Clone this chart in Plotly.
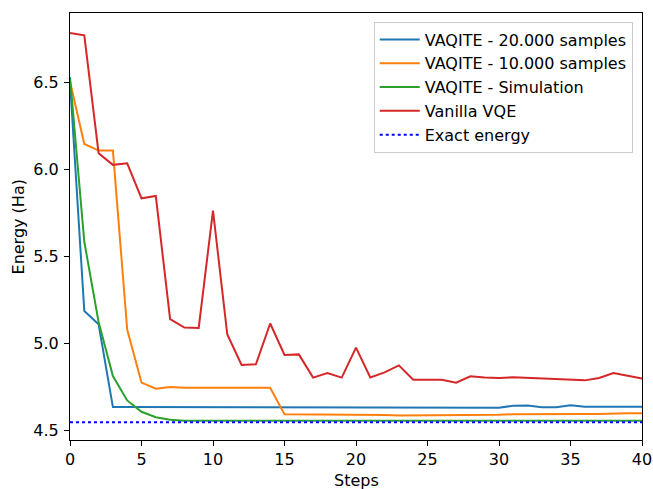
import plotly.graph_objects as go

steps = list(range(41))

vaqite_20000 = [6.503, 5.187, 5.111, 4.636, 4.636, 4.636, 4.636, 4.636, 4.636, 4.636,
                4.636, 4.636, 4.636, 4.635, 4.634, 4.634, 4.634, 4.634, 4.634, 4.634,
                4.634, 4.634, 4.634, 4.634, 4.634, 4.634, 4.634, 4.632, 4.632, 4.632,
                4.632, 4.644, 4.645, 4.635, 4.635, 4.646, 4.638, 4.638, 4.638, 4.638,
                4.638]
vaqite_10000 = [6.503, 6.145, 6.107, 6.107, 5.080, 4.776, 4.741, 4.751, 4.747, 4.747,
                4.747, 4.747, 4.747, 4.747, 4.747, 4.594, 4.594, 4.594, 4.594, 4.592,
                4.592, 4.591, 4.591, 4.588, 4.588, 4.589, 4.589, 4.588, 4.588, 4.592,
                4.592, 4.595, 4.596, 4.596, 4.596, 4.596, 4.596, 4.596, 4.599, 4.600,
                4.600]
vaqite_sim = [6.529, 5.584, 5.124, 4.814, 4.674, 4.609, 4.578, 4.563, 4.558, 4.557,
              4.557, 4.557, 4.557, 4.557, 4.557, 4.557, 4.557, 4.557, 4.557, 4.557,
              4.557, 4.557, 4.557, 4.557, 4.557, 4.557, 4.557, 4.557, 4.557, 4.557,
              4.557, 4.557, 4.557, 4.557, 4.557, 4.557, 4.557, 4.557, 4.557, 4.557,
              4.557]
vanilla_vqe = [6.782, 6.768, 6.092, 6.025, 6.034, 5.833, 5.847, 5.140, 5.092, 5.090,
               5.762, 5.052, 4.877, 4.881, 5.115, 4.935, 4.938, 4.805, 4.831, 4.805,
               4.977, 4.806, 4.835, 4.875, 4.793, 4.793, 4.793, 4.776, 4.812, 4.805,
               4.803, 4.807, 4.803, 4.797, 4.797, 4.789, 4.789, 4.803, 4.831, 4.815,
               4.799]
exact_energy = 4.549

x_ticks = [0, 5, 10, 15, 20, 25, 30, 35, 40]
y_ticks = [4.5, 5.0, 5.5, 6.0, 6.5]
x_title = "Steps"
y_title = "Energy (Ha)"

font = "DejaVu Sans"
fsize = 16

fig = go.Figure()
fig.add_trace(go.Scatter(x=steps, y=vaqite_20000, mode="lines",
                         name="VAQITE - 20.000 samples",
                         line=dict(color="#1f77b4", width=2)))
fig.add_trace(go.Scatter(x=steps, y=vaqite_10000, mode="lines",
                         name="VAQITE - 10.000 samples",
                         line=dict(color="#ff7f0e", width=2)))
fig.add_trace(go.Scatter(x=steps, y=vaqite_sim, mode="lines",
                         name="VAQITE - Simulation",
                         line=dict(color="#2ca02c", width=2)))
fig.add_trace(go.Scatter(x=steps, y=vanilla_vqe, mode="lines",
                         name="Vanilla VQE",
                         line=dict(color="#d62728", width=2)))
fig.add_trace(go.Scatter(x=[steps[0], steps[-1]], y=[exact_energy, exact_energy],
                         mode="lines", name="Exact energy",
                         line=dict(color="#0000ff", width=2, dash="dot")))

axis_common = dict(
    showgrid=False, zeroline=False, showline=True, linecolor="black", linewidth=1,
    mirror=True, ticks="outside", ticklen=5, tickwidth=1, tickcolor="black",
    tickfont=dict(family=font, size=fsize, color="black"), automargin=False,
)

fig.update_layout(
    width=653, height=489,
    margin=dict(l=70, r=11, t=13, b=49),
    paper_bgcolor="white", plot_bgcolor="white",
    font=dict(family=font, size=fsize, color="black"),
    xaxis=dict(range=[0, 40], tickvals=x_ticks, ticklabelstandoff=0, **axis_common),
    yaxis=dict(range=[4.447, 6.896], tickvals=y_ticks, tickformat=".1f",
               ticklabelstandoff=2, **axis_common),
    legend=dict(x=0.531, y=0.98, xanchor="left", yanchor="top",
                bgcolor="rgba(255,255,255,0.8)", bordercolor="#cccccc", borderwidth=1,
                font=dict(family=font, size=fsize, color="black"),
                tracegroupgap=0, itemwidth=40),
    showlegend=True,
    annotations=[
        dict(text=x_title, xref="paper", yref="paper", x=0.5, y=-0.0937,
             xanchor="center", yanchor="middle", showarrow=False,
             font=dict(family=font, size=fsize, color="black")),
        dict(text=y_title, xref="paper", yref="paper", x=-0.0892, y=0.5,
             xanchor="center", yanchor="middle", showarrow=False, textangle=-90,
             font=dict(family=font, size=fsize, color="black")),
    ],
)

fig.write_html("out.html")
